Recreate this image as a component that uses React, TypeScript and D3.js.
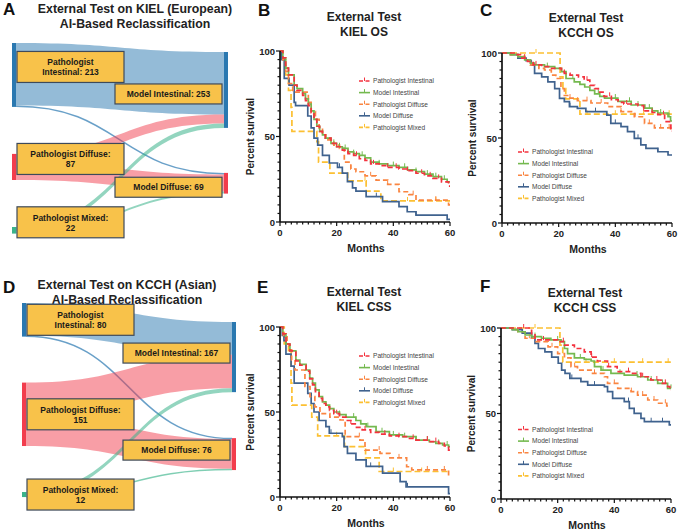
import React from 'react';
import * as d3 from 'd3';

type Pt = [number, number];

const FONT = 'Liberation Sans, Arial, Helvetica, sans-serif';

// ---------- KM shared ----------
const seriesNames = ['Pathologist Intestinal', 'Model Intestinal', 'Pathologist Diffuse', 'Model Diffuse', 'Pathologist Mixed'];
const seriesColors = ['#f4323e', '#74b94f', '#fa8541', '#3f628e', '#fcc032'];
const seriesDash: (string | null)[] = ['5,3', null, '5,3', null, '6,3'];
const xTicks = [0, 20, 40, 60];
const yTicks = [0, 50, 100];

// ---------- KIEL OS ----------
const kielOsPathInt: Pt[] = [[0,100],[1,96],[2,90],[3,86],[5,80],[6,77],[8,74],[9,71],[10,68],[11,64],[12,60],[13,56],[14,53],[15,51],[16,49],[18,46],[20,44],[22,42],[24,40],[26,39],[28,37],[30,36],[32,34],[35,33],[38,32],[42,31],[45,30],[48,28.5],[51,27],[54,25.5],[57,23.5],[59.5,21]];
const kielOsModelInt: Pt[] = [[0,100],[1,96],[2,90],[3,86],[5,80],[6,78],[8,75],[9,72],[10,69],[11,65],[12,60],[13,56],[14,53],[15,51],[16,49],[18,46],[20,44],[22,43],[24,41],[26,40],[28,39],[30,37.5],[32,35],[35,34],[38,33],[42,32],[45,30.5],[48,29.5],[51,28],[54,26.5],[57,25],[59,23.5]];
const kielOsPathDif: Pt[] = [[0,100],[1,95],[2,88],[3,81],[4.5,76],[10,70],[11,64.5],[12.5,60],[13.8,55],[15,51],[16.2,48],[19,45],[21,43],[22.7,35],[25,31],[26.8,29.4],[30,27],[33.9,24.5],[38,22],[42,17.7],[45.5,16],[48,12.8],[59.5,10]];
const kielOsModelDif: Pt[] = [[0,100],[0.5,95],[1.5,84],[3.2,80],[5,70],[5.5,68],[9.8,62],[11,55],[12,49],[13.3,45],[15,39],[17.4,34.5],[20.3,32],[22,28.6],[23.8,23.6],[25.6,20],[26.8,18],[30.4,14.8],[36.2,11.9],[42,9],[44.9,6],[48,4],[59,1.5]];
const kielOsPathMix: Pt[] = [[0,100],[1,95],[2,86],[3,77],[3.9,67],[4.2,53],[13,47],[13.6,35],[17.6,28.6],[23.9,24],[30.4,18],[35.6,12.3]];
const kielOsCensor: number[][] = [[20,24,27,33,38,41,45,50,53,56],[19,21,23,26,29,35,40,44,48,52,55,58],[25,32,38,47,55],[21,34,48],[30,45,55]];

// ---------- KCCH OS ----------
const kcchOsPathInt: Pt[] = [[0,100],[5,99],[7,97],[9,95],[11,93],[14,92],[17,91],[21,89],[22,88],[24,87],[27,86],[29,84],[31,81],[32.7,79],[34,77],[36,74.5],[38.6,72.5],[41,71],[43,70],[48,69],[50,66],[53,65],[55,63.7],[57.4,59.6],[59.6,54]];
const kcchOsModelInt: Pt[] = [[0,100],[3,99],[5.6,97.8],[8,96],[10,94],[11.5,93],[15,92],[18.6,91],[21,89],[22.6,85],[25.5,83],[27.5,81.5],[29.2,80],[31,78],[32.7,76],[34.5,74.5],[36.2,73.5],[40.9,71.6],[45.6,69.4],[50.4,67.6],[53,66],[55,64.7],[58.6,62.5],[59.5,60]];
const kcchOsPathDif: Pt[] = [[0,100],[3,99],[5.6,98],[8,96],[10,93],[13,91],[15,90],[17.4,87],[19,85],[20.8,79],[22,75],[23.5,73.5],[26.6,72],[31.4,70.6],[37.3,68.4],[42,65.5],[46.7,62.5],[50.3,58.6],[53.8,55.9],[59.5,54.5]];
const kcchOsModelDif: Pt[] = [[0,100],[3,99],[5.6,97],[8.5,95.5],[10.3,93],[11.5,88],[14,86],[16.2,83],[18.6,79],[20.3,73.3],[22,71.4],[23.8,68.4],[26.6,67.4],[29.6,65.5],[37,63.5],[38.4,58.6],[42,56.7],[44.3,53.7],[46.7,49.8],[49,45.9],[50.8,43.9],[55,41.9],[58.6,40]];
const kcchOsPathMix: Pt[] = [[0,100],[20.5,86],[21.5,79],[22.5,73],[27.5,64]];
const kcchOsCensor: number[][] = [[8,12,22,30,38,44,50,53,57],[10,16,25,34,40,45,48,52,56,59],[13,24,30,35,42,47,52,56,59],[24,33,40,48,55],[12,30,40,50,59]];

// ---------- KIEL CSS ----------
const kielCssPathInt: Pt[] = [[0,100],[1,96],[2.1,90],[3.5,86],[5.6,80],[7,77.5],[9.2,74],[10.5,69.5],[11.5,66],[12.5,62],[13.8,58],[15,55],[16.2,53],[17.5,51],[19,49],[21,47],[23.3,45],[25,43],[27,41],[29,39.5],[32,38],[35,37],[38.6,36],[42,35.5],[45,34.5],[48,33.5],[53,32.6],[56,31.5],[58,30],[59.5,27.6]];
const kielCssModelInt: Pt[] = [[0,100],[1,96],[2.1,90],[3.5,86],[5.6,80.6],[7,78],[9.2,74.7],[10.5,70],[11.5,67],[12.5,63],[13.8,59],[15,56],[16.2,54],[17.5,52],[19,50],[21,48.5],[23.3,47],[26.8,45],[28.5,43],[30.4,41.4],[33.9,38.4],[38.6,36.5],[43.3,35.5],[48,33.5],[52.7,32.5],[55,31.5],[57.4,30.6],[59.5,29.6]];
const kielCssPathDif: Pt[] = [[0,100],[1.2,95],[2.5,90],[3.2,86.5],[4.1,80.6],[5.3,74.7],[8.8,65],[10.6,59],[12.3,53],[14.1,49],[17.6,47],[21.2,45.3],[23,35.5],[28.2,33.5],[30,27.6],[35.3,25.7],[38.8,23],[44.7,17.8],[46.5,15.9],[59.5,12]];
const kielCssModelDif: Pt[] = [[0,100],[0.8,95],[1.4,92],[2.1,84],[3.9,77],[5,67],[9.8,61],[11,55],[12,50],[13.8,45],[16.2,41.4],[17.4,37.5],[22,35.5],[22.6,29.6],[23.8,25.7],[26.8,21.8],[30.4,18],[36.2,14],[42.4,9],[44.5,6],[59.5,2]];
const kielCssPathMix: Pt[] = [[0,100],[1.5,90],[3,85],[3.9,67],[4.2,54],[11.2,47],[13.3,36],[22.8,29.6],[30.2,23],[35,15]];
const kielCssCensor: number[][] = [[20,25,30,37,42,47,52,55],[21,26,31,36,40,44,48,52,56,59],[28,35,42,52,58],[18,32,45],[20,40,50]];

// ---------- KCCH CSS ----------
const kcchCssPathInt: Pt[] = [[0,100],[10.8,96],[12,93],[20,92],[22.4,90],[25.9,88],[29.4,86],[31.8,83],[34,80.7],[37.6,77.4],[41,74.5],[45.9,73.5],[49.4,71.5],[52.9,69.6],[56.5,67.6],[58.8,65.7],[59.6,63.7]];
const kcchCssModelInt: Pt[] = [[0,100],[4,99],[6,97.8],[8.5,95.9],[10.8,95],[14.3,94],[17.6,93],[21.2,92],[22.4,88],[23.5,85],[25.9,82.5],[29.4,81.7],[31.8,80.7],[33,77.4],[35.3,75.4],[38.8,73.5],[43.5,72.5],[48.2,71.5],[51.8,69.6],[55.3,67.6],[58.8,64.7]];
const kcchCssPathDif: Pt[] = [[0,100],[4,99],[6,97.8],[8.5,94],[12,92],[16.6,89],[20,85],[22.4,82.5],[24.7,77.4],[27,75.4],[31.8,73.5],[36.5,71.5],[37.6,67.6],[41.2,64.7],[45.9,62.8],[48.2,60.8],[51.8,57.9],[55.3,56],[58.5,54.4]];
const kcchCssModelDif: Pt[] = [[0,100],[4,99],[7.5,97],[10.8,94],[12,91],[13.2,88],[15.5,86],[17.9,83],[20.2,79.4],[21.4,75.4],[22.6,73.5],[24.3,70.5],[28.2,68.6],[30.6,66.6],[36.5,65.7],[37.6,62.8],[39.4,58.9],[43.5,57],[45.3,53],[47,50.1],[49.4,47.2],[50.6,45.2],[59.4,43.3]];
const kcchCssPathMix: Pt[] = [[0,100],[20.8,90],[21.8,80]];
const kcchCssCensor: number[][] = [[8,15,22,32,38,45,50,55,58],[12,20,28,36,42,48,53,57,60],[10,18,26,33,40,46,50,54,58],[25,33,45,53,57],[12,30,40,50,59]];

// ---------- Sankey data ----------
const kielPathCounts = [213, 87, 22];
const kielModelCounts = [253, 69];
const kielFlows = [[208, 5], [30, 57], [15, 7]];
const kcchPathCounts = [80, 151, 12];
const kcchModelCounts = [167, 76];
const kcchFlows = [[78, 2], [80, 71], [9, 3]];

const nodeColors = ['#2a78b0', '#f23d4d', '#3bb38b'];
const linkColors = ['rgba(42,120,176,0.5)', 'rgba(242,61,77,0.5)', 'rgba(59,179,139,0.55)'];
const thinLinkColors = ['rgba(42,120,176,0.7)', 'rgba(242,61,77,0.7)', 'rgba(59,179,139,0.65)'];

// ---------- KM panel ----------
interface KMCfg {
  letter: string; title2: string; x0: number; x1: number; yTop: number; yBot: number;
  series: Pt[][]; censor: number[][]; legX: number; legY: number; ylabX: number; letterX: number; letterY: number;
  titleY: number;
}

const kmPanels: KMCfg[] = [
  { letter: 'B', title2: 'KIEL OS', x0: 280, x1: 450, yTop: 51, yBot: 222, series: [kielOsPathInt, kielOsModelInt, kielOsPathDif, kielOsModelDif, kielOsPathMix], censor: kielOsCensor, legX: 359, legY: 81, ylabX: 250, letterX: 258, letterY: 16, titleY: 21 },
  { letter: 'C', title2: 'KCCH OS', x0: 502, x1: 672, yTop: 53, yBot: 223, series: [kcchOsPathInt, kcchOsModelInt, kcchOsPathDif, kcchOsModelDif, kcchOsPathMix], censor: kcchOsCensor, legX: 518, legY: 152, ylabX: 472, letterX: 480, letterY: 16, titleY: 22 },
  { letter: 'E', title2: 'KIEL CSS', x0: 280, x1: 450, yTop: 327, yBot: 497, series: [kielCssPathInt, kielCssModelInt, kielCssPathDif, kielCssModelDif, kielCssPathMix], censor: kielCssCensor, legX: 359, legY: 356, ylabX: 250, letterX: 257, letterY: 293, titleY: 296 },
  { letter: 'F', title2: 'KCCH CSS', x0: 501, x1: 671, yTop: 328, yBot: 499, series: [kcchCssPathInt, kcchCssModelInt, kcchCssPathDif, kcchCssModelDif, kcchCssPathMix], censor: kcchCssCensor, legX: 518, legY: 429.5, ylabX: 471, letterX: 480, letterY: 292, titleY: 297 },
];

function stepValue(data: Pt[], t: number): number {
  let v = data[0][1];
  for (const d of data) { if (d[0] <= t) v = d[1]; }
  return v;
}

const KMPanel: React.FC<{ p: KMCfg }> = ({ p }) => {
  const x = d3.scaleLinear().domain([0, 60]).range([p.x0, p.x1]);
  const y = d3.scaleLinear().domain([0, 100]).range([p.yBot, p.yTop]);
  const line = d3.line<Pt>().x(d => x(d[0])).y(d => y(d[1])).curve(d3.curveStepAfter);
  const xMinor = d3.range(0, 61, 2);
  const yMinor = d3.range(0, 101, 5);
  const cx = (p.x0 + p.x1) / 2 - 1;
  const order = [4, 3, 2, 1, 0];
  return (
    <g fontFamily={FONT}>
      <text x={p.letterX} y={p.letterY} fontSize={17} fontWeight="bold" fill="#111">{p.letter}</text>
      <text x={cx} y={p.titleY} fontSize={12} fontWeight="bold" textAnchor="middle" fill="#222">External Test</text>
      <text x={cx} y={p.titleY + 15} fontSize={12} fontWeight="bold" textAnchor="middle" fill="#222">{p.title2}</text>
      {order.map(i => {
        const data = p.series[i];
        const full: Pt[] = [...data, [60, data[data.length - 1][1]]];
        return (
          <g key={i}>
            <path d={line(full) || ''} fill="none" stroke={seriesColors[i]} strokeWidth={1.7} strokeDasharray={seriesDash[i] || undefined} />
            {p.censor[i].map((t, k) => {
              const yy = y(stepValue(data, t));
              return <line key={k} x1={x(t)} x2={x(t)} y1={yy} y2={yy - 4} stroke={seriesColors[i]} strokeWidth={1} />;
            })}
          </g>
        );
      })}
      {/* axes */}
      <line x1={p.x0} x2={p.x0} y1={p.yTop} y2={p.yBot} stroke="#111" strokeWidth={1.7} />
      <line x1={p.x0} x2={p.x1} y1={p.yBot} y2={p.yBot} stroke="#111" strokeWidth={1.7} />
      {yMinor.map(v => (
        <line key={'ym' + v} x1={p.x0} x2={p.x0 - (v % 50 === 0 ? 4 : 2.5)} y1={y(v)} y2={y(v)} stroke="#111" strokeWidth={1.2} />
      ))}
      {xMinor.map(v => (
        <line key={'xm' + v} x1={x(v)} x2={x(v)} y1={p.yBot} y2={p.yBot + (v % 20 === 0 ? 4 : 2.5)} stroke="#111" strokeWidth={1.2} />
      ))}
      {yTicks.map(v => (
        <text key={'yt' + v} x={p.x0 - 5} y={y(v) + 3.5} fontSize={9.5} fontWeight="bold" textAnchor="end" fill="#222">{v}</text>
      ))}
      {xTicks.map(v => (
        <text key={'xt' + v} x={x(v)} y={p.yBot + 14} fontSize={9.5} fontWeight="bold" textAnchor="middle" fill="#222">{v}</text>
      ))}
      <text x={cx + 2} y={p.yBot + 30} fontSize={10.5} fontWeight="bold" textAnchor="middle" fill="#222">Months</text>
      <text transform={`translate(${p.ylabX + 3.5},${(p.yTop + p.yBot) / 2}) rotate(-90)`} fontSize={10} fontWeight="bold" textAnchor="middle" fill="#222">Percent survival</text>
      {/* legend */}
      {seriesNames.map((n, i) => {
        const ly = p.legY + i * 11.6;
        return (
          <g key={'lg' + i}>
            <line x1={p.legX} x2={p.legX + 11} y1={ly} y2={ly} stroke={seriesColors[i]} strokeWidth={1.6} strokeDasharray={seriesDash[i] ? '4,2.5' : undefined} />
            <line x1={p.legX + 5.5} x2={p.legX + 5.5} y1={ly} y2={ly - 3.5} stroke={seriesColors[i]} strokeWidth={1} />
            <text x={p.legX + 14} y={ly + 2.3} fontSize={6.6} fill="#444">{n}</text>
          </g>
        );
      })}
    </g>
  );
};

// ---------- Sankey panel ----------
interface SkCfg {
  letter: string; line1: string; letterY: number; titleCx: number; titleY: number;
  pathCounts: number[]; modelCounts: number[]; flows: number[][];
  leftX: number; rightX: number; k: number; leftTop: number; leftGap: number; rightTop: number; rightGap: number;
  leftDy: number; rightDy: number;
}

const skPanels: SkCfg[] = [
  { letter: 'A', line1: 'External Test on KIEL (European)', letterY: 15, titleCx: 135, titleY: 13, pathCounts: kielPathCounts, modelCounts: kielModelCounts, flows: kielFlows, leftX: 12, rightX: 224, k: 0.3, leftTop: 43, leftGap: 47, rightTop: 52, rightGap: 45, leftDy: -8, rightDy: 4 },
  { letter: 'D', line1: 'External Test on KCCH (Asian)', letterY: 293, titleCx: 127, titleY: 289, pathCounts: kcchPathCounts, modelCounts: kcchModelCounts, flows: kcchFlows, leftX: 22, rightX: 232, k: 0.42, leftTop: 303, leftGap: 46, rightTop: 322, rightGap: 46, leftDy: 0, rightDy: -4 },
];

const BAR_W = 4;

const SankeyPanel: React.FC<{ p: SkCfg }> = ({ p }) => {
  const h = d3.scaleLinear().domain([0, 1]).range([0, p.k]);
  const stack = (counts: number[], top: number, gap: number) => {
    let yy = top;
    return counts.map(c => { const y0 = yy; const y1 = yy + h(c); yy = y1 + gap; return { y0, y1 }; });
  };
  const left = stack(p.pathCounts, p.leftTop, p.leftGap);
  const right = stack(p.modelCounts, p.rightTop, p.rightGap);
  const srcOff = left.map(n => n.y0);
  const tgtOff = right.map(n => n.y0);
  const links: { s: number; t: number; w: number; sy0: number; sy1: number; ty0: number; ty1: number }[] = [];
  const tgtStart: number[][] = p.flows.map(() => [0, 0]);
  for (let t = 0; t < p.modelCounts.length; t++) {
    for (let s = 0; s < p.pathCounts.length; s++) {
      tgtStart[s][t] = tgtOff[t];
      tgtOff[t] += h(p.flows[s][t]);
    }
  }
  for (let s = 0; s < p.pathCounts.length; s++) {
    for (let t = 0; t < p.modelCounts.length; t++) {
      const w = h(p.flows[s][t]);
      links.push({ s, t, w, sy0: srcOff[s], sy1: srcOff[s] + w, ty0: tgtStart[s][t], ty1: tgtStart[s][t] + w });
      srcOff[s] += w;
    }
  }
  const xs = p.leftX + BAR_W;
  const xt = p.rightX;
  const xm = (xs + xt) / 2;
  const band = (l: typeof links[number]) => {
    const pth = d3.path();
    pth.moveTo(xs, l.sy0);
    pth.bezierCurveTo(xm, l.sy0, xm, l.ty0, xt, l.ty0);
    pth.lineTo(xt, l.ty1);
    pth.bezierCurveTo(xm, l.ty1, xm, l.sy1, xs, l.sy1);
    pth.closePath();
    return pth.toString();
  };
  const center = (l: typeof links[number]) => {
    const a = (l.sy0 + l.sy1) / 2, b = (l.ty0 + l.ty1) / 2;
    const pth = d3.path();
    pth.moveTo(xs, a);
    pth.bezierCurveTo(xm, a, xm, b, xt, b);
    return pth.toString();
  };
  const leftText = [
    ['Pathologist', `Intestinal: ${p.pathCounts[0]}`],
    ['Pathologist Diffuse:', `${p.pathCounts[1]}`],
    ['Pathologist Mixed:', `${p.pathCounts[2]}`],
  ];
  const rightText = [`Model Intestinal: ${p.modelCounts[0]}`, `Model Diffuse: ${p.modelCounts[1]}`];
  const boxW = 107;
  return (
    <g fontFamily={FONT}>
      <text x={3} y={p.letterY} fontSize={17} fontWeight="bold" fill="#111">{p.letter}</text>
      <text x={p.titleCx} y={p.titleY} fontSize={12.3} fontWeight="bold" textAnchor="middle" fill="#222">{p.line1}</text>
      <text x={p.titleCx} y={p.titleY + 15} fontSize={12.3} fontWeight="bold" textAnchor="middle" fill="#222">AI-Based Reclassification</text>
      {[0, 1, 2].map(s => links.filter(l => l.s === s).map((l, i) => (
        l.w < 1.6
          ? <path key={s + '-' + i} d={center(l)} fill="none" stroke={thinLinkColors[l.s]} strokeWidth={1.5} />
          : <path key={s + '-' + i} d={band(l)} fill={linkColors[l.s]} stroke="none" />
      )))}
      {left.map((n, i) => (
        <rect key={'ln' + i} x={p.leftX} y={n.y0} width={BAR_W} height={Math.max(n.y1 - n.y0, 1)} fill={nodeColors[i]} />
      ))}
      {right.map((n, i) => (
        <rect key={'rn' + i} x={p.rightX} y={n.y0} width={BAR_W} height={Math.max(n.y1 - n.y0, 1)} fill={nodeColors[i]} />
      ))}
      {left.map((n, i) => {
        const cy = (n.y0 + n.y1) / 2 + p.leftDy;
        const bx = p.leftX + 5;
        return (
          <g key={'lb' + i}>
            <rect x={bx} y={cy - 15.5} width={boxW} height={31} fill="#f8c24a" stroke="#3e4a5a" strokeWidth={1.2} />
            <text x={bx + boxW / 2} y={cy - 1.5} fontSize={8.5} fontWeight="bold" textAnchor="middle" fill="#1a1a1a">{leftText[i][0]}</text>
            <text x={bx + boxW / 2} y={cy + 8.5} fontSize={8.5} fontWeight="bold" textAnchor="middle" fill="#1a1a1a">{leftText[i][1]}</text>
          </g>
        );
      })}
      {right.map((n, i) => {
        const cy = (n.y0 + n.y1) / 2 + p.rightDy;
        const bx = p.rightX - 2 - boxW;
        return (
          <g key={'rb' + i}>
            <rect x={bx} y={cy - 10} width={boxW} height={20} fill="#f8c24a" stroke="#3e4a5a" strokeWidth={1.2} />
            <text x={bx + boxW / 2} y={cy + 3} fontSize={8.5} fontWeight="bold" textAnchor="middle" fill="#1a1a1a">{rightText[i]}</text>
          </g>
        );
      })}
    </g>
  );
};

export default function App() {
  return (
    <svg width={678} height={531} viewBox="0 0 678 531" style={{ position: 'absolute', left: 0, top: 0, background: '#fff' }}>
      <rect x={0} y={0} width={678} height={531} fill="#fff" />
      {skPanels.map(p => <SankeyPanel key={p.letter} p={p} />)}
      {kmPanels.map(p => <KMPanel key={p.letter} p={p} />)}
    </svg>
  );
}
